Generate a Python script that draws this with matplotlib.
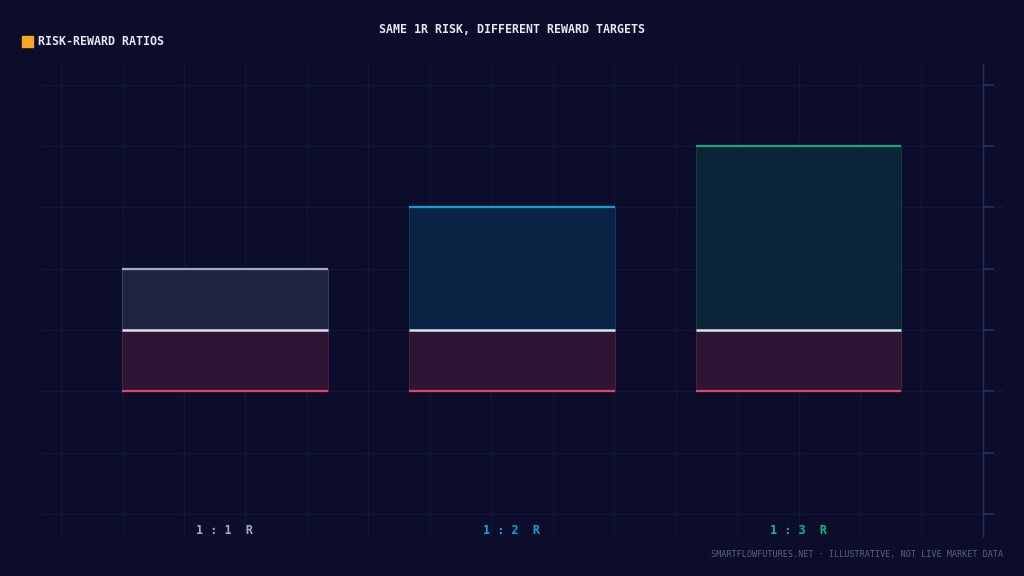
import matplotlib
matplotlib.use("Agg")
import matplotlib.pyplot as plt
import numpy as np

# data
ratios = ["1 : 1  R", "1 : 2  R", "1 : 3  R"]
rewards = [1, 2, 3]
risk = 1
entry = 0

BG = "#0b0d2b"
GRID = "#131637"
SPINE = "#2a2d5e"
reward_fill = ["#20233f", "#0a2244", "#0c2437"]
reward_line = ["#a3a8cc", "#0ea2d4", "#12a67c"]
label_color = ["#a3a8cc", "#0ea5dc", "#10b981"]
risk_fill = "#2d1535"
risk_line = "#e83d70"
entry_color = "#dde0f0"
MONO = "DejaVu Sans Mono"


def main():
    fig = plt.figure(figsize=(10.24, 5.76), dpi=100, facecolor=BG)
    W, H = 1024, 576
    ax = fig.add_axes([42 / W, 40 / H, (1004 - 42) / W, (536 - 64) / H])
    ax.set_facecolor(BG)
    plot_data(ax)
    set_properties(ax)
    add_texts(fig, ax)
    fig.savefig("out.png", dpi=100, facecolor=BG)


def plot_data(ax):
    width = 0.718
    for i, r in enumerate(rewards):
        ax.bar(i, r, width=width, bottom=entry, color=reward_fill[i],
               edgecolor=reward_line[i] + "40", linewidth=0.8, zorder=2)
        ax.bar(i, -risk, width=width, bottom=entry, color=risk_fill,
               edgecolor=risk_line + "40", linewidth=0.8, zorder=2)
        ax.hlines(entry + r, i - width / 2, i + width / 2, color=reward_line[i], lw=1.6, zorder=3)
        ax.hlines(entry - risk, i - width / 2, i + width / 2, color=risk_line, lw=1.6, zorder=3)
        ax.hlines(entry, i - width / 2, i + width / 2, color=entry_color, lw=1.8, zorder=4)


def set_properties(ax):
    scale = 286.75
    ax.set_xlim((42 - 225) / scale, (1004 - 225) / scale)
    ax.set_ylim((330 - 536) / 61.35, (330 - 64) / 61.35)
    step = 3 / 14
    ax.set_xticks(2 + step * np.arange(-12, 4))
    ax.set_yticks(np.arange(-3, 5))
    ax.grid(True, color=GRID, lw=1, zorder=0)
    ax.set_axisbelow(True)
    ax.tick_params(axis="x", length=0, labelbottom=False)
    ax.yaxis.tick_right()
    ax.tick_params(axis="y", length=8, width=1.2, color=SPINE, labelright=False, direction="out")
    for s in ["top", "left", "bottom"]:
        ax.spines[s].set_visible(False)
    ax.spines["right"].set_position(("data", 2 + 3 * step))
    ax.spines["right"].set_color(SPINE)
    ax.spines["right"].set_linewidth(1)
    for i, lab in enumerate(ratios):
        ax.text(i, 0.011, lab, transform=ax.get_xaxis_transform(), ha="center", va="center",
                color=label_color[i], fontsize=8.5, fontweight="bold", family=MONO)


def add_texts(fig, ax):
    fig.text(512 / 1024, 1 - 29.5 / 576, "SAME 1R RISK, DIFFERENT REWARD TARGETS", ha="center",
             va="center", color="#e6e8f5", fontsize=8.4, fontweight="bold", family=MONO)
    fig.patches.append(plt.Rectangle((22 / 1024, 1 - 47 / 576), 11 / 1024, 11 / 576,
                                     transform=fig.transFigure, color="#f5a623", figure=fig))
    fig.text(38 / 1024, 1 - 41.5 / 576, "RISK-REWARD RATIOS", ha="left", va="center",
             color="#e6e8f5", fontsize=8.4, fontweight="bold", family=MONO)
    fig.text(1003 / 1024, 1 - 555 / 576, "SMARTFLOWFUTURES.NET · ILLUSTRATIVE, NOT LIVE MARKET DATA",
             ha="right", va="center", color="#5c6088", fontsize=6.15, family=MONO)


if __name__ == "__main__":
    main()
